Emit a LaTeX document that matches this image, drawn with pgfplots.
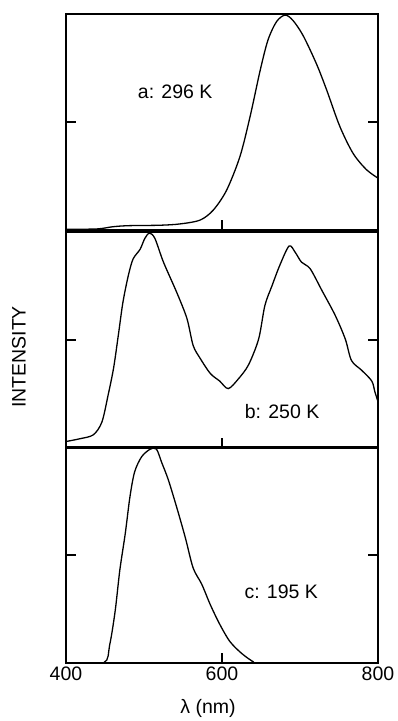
\documentclass[border=0pt]{standalone}
\usepackage{pgfplots}
\pgfplotsset{compat=1.18}
\usepackage{fontspec}
\setmainfont{Liberation Sans}
\newcommand{\bigf}{\fontsize{19.5}{23}\selectfont}
\begin{document}
\begin{tikzpicture}
\pgfplotsset{
  panel/.style={
    scale only axis, width=312pt, height=216pt,
    anchor=south west,
    xmin=400, xmax=800, ymin=0, ymax=1,
    axis line style={line width=1.8pt},
    tick align=inside,
    xtick={600}, xtick pos=bottom,
    ytick={0.5}, yticklabels={},
    major tick length=10pt,
    every tick/.style={line width=1.5pt, black},
    xticklabels={},
    clip=true,
  },
  curve/.style={black, line width=1.3pt, smooth, tension=0.5, no marks},
}
% panel a
\begin{axis}[panel, at={(66pt,491pt)}]
\addplot[curve] coordinates {
(400,0.003) (440,0.005) (460,0.015) (480,0.02) (520,0.022) (546,0.028) (572,0.046)
(589,0.093) (606,0.185) (623,0.34) (636,0.525) (649,0.74) (659,0.88) (670,0.965)
(681,0.995) (691,0.97) (704,0.90) (721,0.77) (734,0.65) (751,0.48) (768,0.355)
(785,0.28) (800,0.24)};
\node[font=\bigf] at (axis cs:540,0.64) {a: 296 K};
\end{axis}
% panel b
\begin{axis}[panel, at={(66pt,273pt)}]
\addplot[curve] coordinates {
(400,0.03) (418,0.043) (435,0.061) (446,0.12) (454,0.245) (461,0.37) (467,0.52)
(473,0.675) (480,0.80) (486,0.875) (495,0.92) (501,0.97) (507,0.995) (514,0.97)
(525,0.86) (542,0.72) (555,0.60) (563,0.475) (572,0.415) (585,0.345) (597,0.31)
(608,0.275) (621,0.32) (634,0.385) (647,0.505) (655,0.66) (664,0.75) (674,0.845)
(686,0.935) (694,0.905) (702,0.86) (713,0.83) (728,0.73) (745,0.615) (758,0.505)
(766,0.405) (779,0.36) (792,0.31) (796,0.26) (800,0.215)};
\node[font=\bigf] at (axis cs:677,0.17) {b: 250 K};
\end{axis}
% panel c
\begin{axis}[panel, at={(66pt,58pt)},
  xtick={400,600,800}, xticklabels={400,600,800},
  ticklabel style={font=\bigf},
  /pgf/number format/assume math mode=true,
  xtick pos=bottom]
\addplot[curve] coordinates {
(400,0) (448,0) (456,0.084) (463,0.24) (469,0.43) (476,0.60) (482,0.77) (488,0.885)
(497,0.955) (508,0.99) (516,0.99) (523,0.925) (531,0.85) (542,0.72) (553,0.58)
(563,0.44) (574,0.365) (585,0.27) (597,0.18) (610,0.10) (625,0.045) (640,0.006)
(648,0) (800,0)};
\node[font=\bigf] at (axis cs:676,0.33) {c: 195 K};
\end{axis}
\node[font=\bigf, rotate=90] at (19pt,364pt) {INTENSITY};
\node[font=\bigf] at (208pt,13pt) {λ (nm)};
\path (0pt,0pt) rectangle (394pt,721pt);
\end{tikzpicture}
\end{document}
